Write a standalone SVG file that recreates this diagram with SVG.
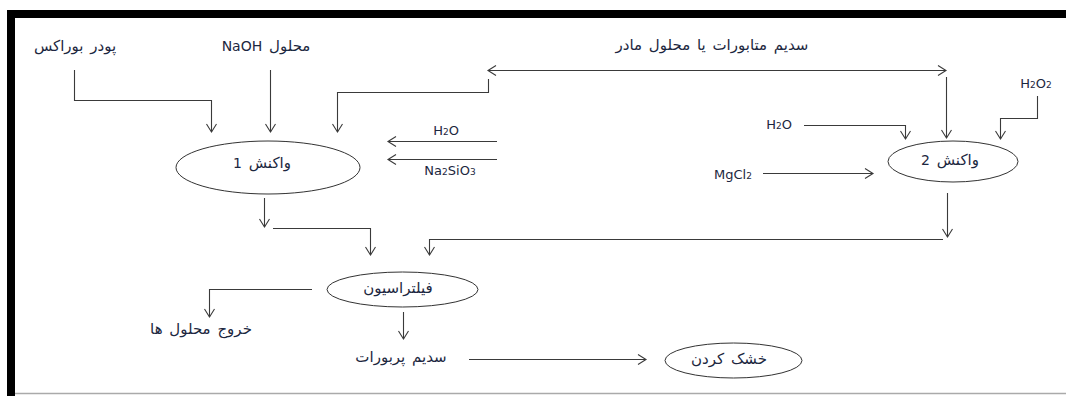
<svg xmlns="http://www.w3.org/2000/svg" width="1066" height="396" viewBox="0 0 1066 396">
<style>
.t{font-family:"DejaVu Sans","Noto Sans",sans-serif;font-size:13px;fill:#1c2740;text-anchor:middle}
.fa{direction:rtl;unicode-bidi:embed;font-size:15px;word-spacing:2px}
.la{font-size:14px}
.n{fill:none;stroke:#333;stroke-width:1}
.c path{fill:none;stroke:#3a3a3a;stroke-width:1.1;marker-end:url(#a)}
</style>
<defs>
<marker id="a" viewBox="-10 -7 12 14" markerWidth="12" markerHeight="14" refX="0" refY="0" orient="auto-start-reverse" markerUnits="userSpaceOnUse">
<path d="M-8,-5 L0,0 L-8,5" fill="none" stroke="#3a3a3a" stroke-width="1.1"/>
</marker>
</defs>
<rect x="0" y="0" width="1066" height="396" fill="#fff"/>
<g id="frame">
<rect x="7" y="10" width="1059" height="8" fill="#000"/>
<rect x="7" y="10" width="8" height="386" fill="#000"/>
<line x1="15" y1="393.5" x2="1066" y2="393.5" stroke="#aaa" stroke-width="1.5"/>
</g>
<g id="labels">
<text class="t fa" x="75" y="51">پودر بوراکس</text>
<text class="t fa" x="266" y="51">محلول <tspan class="la">NaOH</tspan></text>
<text class="t fa" x="712" y="50">سدیم متابورات یا محلول مادر</text>
<text class="t" x="1036" y="88">H<tspan font-size="9">2</tspan>O<tspan font-size="9">2</tspan></text>
<text class="t" x="779" y="129">H<tspan font-size="9">2</tspan>O</text>
<text class="t" x="446" y="135">H<tspan font-size="9">2</tspan>O</text>
<text class="t" x="450" y="175">Na<tspan font-size="9">2</tspan>SiO<tspan font-size="9">3</tspan></text>
<text class="t" x="733" y="179">MgCl<tspan font-size="9">2</tspan></text>
<text class="t fa" x="201" y="334">خروج محلول ها</text>
<text class="t fa" x="401" y="362">سدیم پربورات</text>
</g>
<g id="reaction1">
<ellipse class="n" cx="268" cy="167.5" rx="92" ry="26.5"/>
<text class="t fa" x="262" y="168">واکنش <tspan class="la">1</tspan></text>
</g>
<g id="reaction2">
<ellipse class="n" cx="953" cy="161.5" rx="65" ry="20.5"/>
<text class="t fa" x="950" y="165">واکنش <tspan class="la">2</tspan></text>
</g>
<g id="filtration">
<ellipse class="n" cx="402.5" cy="289.5" rx="75.5" ry="17.5"/>
<text class="t fa" x="398" y="293">فیلتراسیون</text>
</g>
<g id="drying">
<ellipse class="n" cx="733.5" cy="360.5" rx="68.5" ry="17.5"/>
<text class="t fa" x="729" y="364">خشک کردن</text>
</g>
<g id="connectors" class="c">
<path d="M74.5,70 V100.5 H211.5 V132"/>
<path d="M270.5,70 V132"/>
<path d="M488,70.5 H946" style="marker-start:url(#a)"/>
<path d="M488.5,79 V92.5 H337.5 V132"/>
<path d="M946.5,77 V138"/>
<path d="M804,125.5 H905.5 V139"/>
<path d="M1037.5,96 V118.5 H1000.5 V139"/>
<path d="M497,141.5 H388"/>
<path d="M497,159.5 H388"/>
<path d="M763,173.5 H873"/>
<path d="M264.5,198 V227"/>
<path d="M273,228.5 H370.5 V255"/>
<path d="M947.5,193 V237"/>
<path d="M943,239.5 H429.5 V255"/>
<path d="M312,289.5 H209.5 V317"/>
<path d="M403.5,312 V339"/>
<path d="M469,359.5 H646"/>
</g>
</svg>
